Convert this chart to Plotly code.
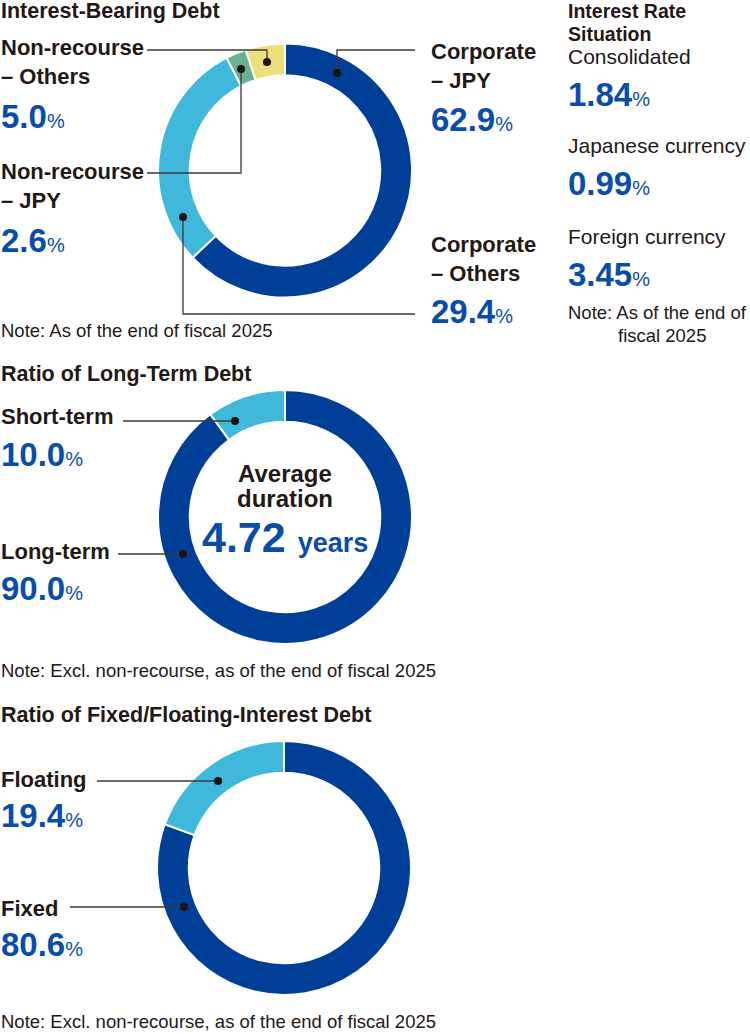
import plotly.graph_objects as go

W, H = 750, 1034

# data
debt_labels = ["Corporate – JPY", "Corporate – Others", "Non-recourse – JPY", "Non-recourse – Others"]
debt_values = [62.9, 29.4, 2.6, 5.0]
term_labels = ["Long-term", "Short-term"]
term_values = [90.0, 10.0]
rate_labels = ["Fixed", "Floating"]
rate_values = [80.6, 19.4]
rate_situation = ["Consolidated", "Japanese currency", "Foreign currency"]
rate_situation_values = [1.84, 0.99, 3.45]
avg_duration = 4.72

DARK = "#003F98"
LIGHT = "#40B8DC"
GREEN = "#68B291"
YELLOW = "#ECE07C"
BLUE_TXT = "#0A4DA8"
INK = "#231815"
FONT = "Liberation Sans"


def px(x):
    return x / W


def py(y):
    return 1 - y / H


def donut(cx, cy, r, labels, values, colors):
    return go.Pie(
        labels=labels, values=values, sort=False, direction="clockwise",
        rotation=0, hole=0.75, textinfo="none", hoverinfo="skip",
        marker=dict(colors=colors, line=dict(color="white", width=2)),
        domain=dict(x=[px(cx - r), px(cx + r)], y=[py(cy + r), py(cy - r)]),
    )


fig = go.Figure()
fig.add_trace(donut(285, 170.5, 127, debt_labels, debt_values, [DARK, LIGHT, GREEN, YELLOW]))
fig.add_trace(donut(285, 517, 127, term_labels, term_values, [DARK, LIGHT]))
fig.add_trace(donut(284, 868, 127, rate_labels, rate_values, [DARK, LIGHT]))

annotations = []


def txt(x, base, text, size, color=INK, bold=False, anchor="left", align="left"):
    # base = pixel row of the (last line's) baseline
    annotations.append(dict(
        x=px(x), y=py(base + 0.212 * size), xref="paper", yref="paper",
        xanchor=anchor, yanchor="bottom", text=text, showarrow=False,
        borderpad=0, align=align,
        font=dict(family=FONT, size=size, color=color, weight="bold" if bold else "normal"),
    ))


def pct(v, digits=1):
    return f"{v:.{digits}f}<span style='font-size:20px;font-weight:normal'>%</span>"


def label(x, base, name_lines, value, digits=1, gap=42):
    b = base
    for i, line in enumerate(name_lines):
        txt(x, b, line, 22, bold=True)
        if i < len(name_lines) - 1:
            b += 29
    txt(x, b + gap, pct(value, digits), 33, BLUE_TXT, bold=True)


# Interest-Bearing Debt
txt(0, 19, "Interest-Bearing Debt", 21.5, bold=True)
label(0, 56, ["Non-recourse", "– Others"], debt_values[3], gap=44)
label(0, 180, ["Non-recourse", "– JPY"], debt_values[2], gap=44)
label(430, 60, ["Corporate", "– JPY"], debt_values[0], gap=43)
label(430, 253, ["Corporate", "– Others"], debt_values[1], gap=42)
txt(0, 338, "Note: As of the end of fiscal 2025", 18.5)

# Interest Rate Situation
txt(567, 19, "Interest Rate", 19.5, bold=True)
txt(567, 41.5, "Situation", 19.5, bold=True)
for name, v, b in zip(rate_situation, rate_situation_values, [65, 154, 245]):
    txt(567, b, name, 21)
    txt(567, b + 42, pct(v, 2), 33, BLUE_TXT, bold=True)
txt(567, 320, "Note: As of the end of", 18.5)
txt(617, 343, "fiscal 2025", 18.5)

# Ratio of Long-Term Debt
txt(0, 382, "Ratio of Long-Term Debt", 21.5, bold=True)
label(0, 425, ["Short-term"], term_values[1])
label(0, 560, ["Long-term"], term_values[0], gap=41)
txt(285, 483, "Average", 24, bold=True, anchor="center")
txt(285, 508, "duration", 24, bold=True, anchor="center")
txt(285, 553, f"{avg_duration:.2f} <span style='font-size:27px'>years</span>", 43,
    BLUE_TXT, bold=True, anchor="center")
txt(0, 678, "Note: Excl. non-recourse, as of the end of fiscal 2025", 18.5)

# Ratio of Fixed/Floating-Interest Debt
txt(0, 723, "Ratio of Fixed/Floating-Interest Debt", 21.5, bold=True)
label(0, 788, ["Floating"], rate_values[1], gap=40)
label(0, 917, ["Fixed"], rate_values[0], gap=40)
txt(0, 1029, "Note: Excl. non-recourse, as of the end of fiscal 2025", 18.5)

# leader lines with end dots
leaders = [
    [(147, 50), (267, 50), (267, 62)],
    [(147, 173), (241, 173), (241, 69)],
    [(415, 50), (337, 50), (337, 73)],
    [(415, 314), (183, 314), (183, 217)],
    [(123, 421), (235, 421)],
    [(118, 554), (183, 554)],
    [(97, 781), (218, 781)],
    [(70, 907), (184, 907)],
]
shapes = []
for pts in leaders:
    path = "M " + " L ".join(f"{px(x)},{py(y)}" for x, y in pts)
    shapes.append(dict(type="path", path=path, xref="paper", yref="paper",
                       line=dict(color="#3a3a3a", width=1.3), layer="above"))
    ex, ey = pts[-1]
    shapes.append(dict(type="circle", xref="paper", yref="paper",
                       x0=px(ex - 4), x1=px(ex + 4), y0=py(ey + 4), y1=py(ey - 4),
                       fillcolor="#1a1311", line=dict(width=0), layer="above"))

fig.update_layout(
    width=W, height=H, margin=dict(l=0, r=0, t=0, b=0),
    paper_bgcolor="white", plot_bgcolor="white", showlegend=False,
    annotations=annotations, shapes=shapes,
)
# page body has an 8px default margin; drop it so the figure fills the window
fig.write_html("out.html", config={"displayModeBar": False},
               post_script="document.body.style.margin='0';")
